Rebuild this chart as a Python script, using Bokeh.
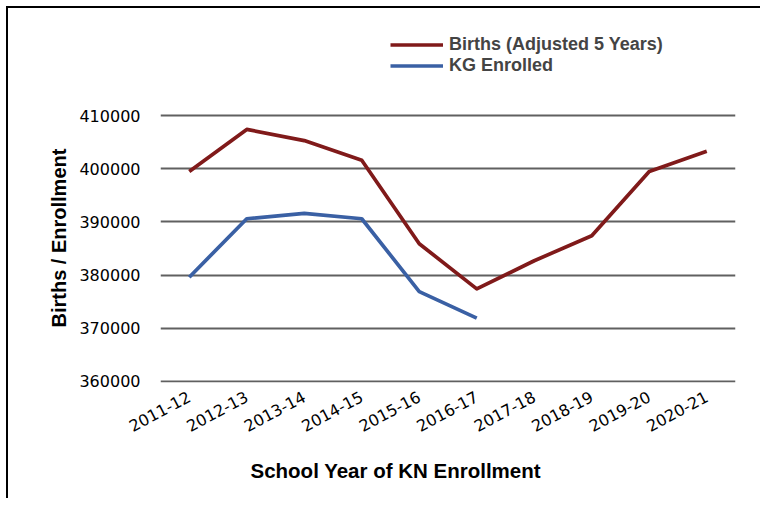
import math
from bokeh.plotting import figure
from bokeh.models import ColumnDataSource, Legend, LegendItem, Title, FactorRange, FixedTicker
from bokeh.embed import file_html
from bokeh.resources import INLINE

# School years (kindergarten enrollment year)
years = ["2011-12", "2012-13", "2013-14", "2014-15", "2015-16",
         "2016-17", "2017-18", "2018-19", "2019-20", "2020-21"]
# Births shifted forward five years
births = [399500, 407400, 405300, 401600, 385900,
          377400, 382700, 387400, 399500, 403300]
# Kindergarten enrollment (reported years only)
kg_years = years[:6]
kg_enrolled = [379600, 390600, 391600, 390600, 376900, 371900]
# Value axis ticks
y_ticks = [360000, 370000, 380000, 390000, 400000, 410000]

BIRTHS_COLOR = "#801a1a"
KG_COLOR = "#3a60a4"

# The top of the frame leaves headroom for the legend above the 410000 line
p = figure(
    width=754, height=492,
    x_range=FactorRange(*years, range_padding=0),
    y_range=(359800, 426000),
    output_backend="svg", toolbar_location=None,
    min_border_left=152, min_border_right=27,
    min_border_top=22, min_border_bottom=118,
)
p.margin = (6, 0, 0, 6)
p.styles = {"border-top": "2px solid black", "border-left": "2px solid black"}
p.outline_line_color = None
p.background_fill_color = "white"
p.border_fill_color = "white"

src_b = ColumnDataSource(dict(x=years, y=births))
src_k = ColumnDataSource(dict(x=kg_years, y=kg_enrolled))
r_b = p.line("x", "y", source=src_b, line_color=BIRTHS_COLOR, line_width=3.7, line_join="round")
r_k = p.line("x", "y", source=src_k, line_color=KG_COLOR, line_width=3.7, line_join="round")

# Grid
p.xgrid.grid_line_color = None
p.ygrid.grid_line_color = "#606060"
p.ygrid.grid_line_width = 2
p.yaxis.ticker = FixedTicker(ticks=y_ticks)

# Axes
for ax in (p.xaxis, p.yaxis):
    ax.axis_line_color = None
    ax.major_tick_line_color = None
    ax.minor_tick_line_color = None
    ax.major_tick_out = 0
    ax.major_tick_in = 0
    ax.major_label_text_font = "DejaVu Sans"
    ax.major_label_text_font_size = "16px"
    ax.major_label_text_color = "black"

p.yaxis.major_label_standoff = 20
p.yaxis.formatter.use_scientific = False
p.xaxis.major_label_orientation = math.radians(28)
p.xaxis.major_label_standoff = 13

# Axis titles
p.add_layout(Title(text="Births / Enrollment", align="left", offset=55,
                   text_font="Liberation Sans", text_font_style="bold",
                   text_font_size="20px", text_color="black", standoff=14), "left")
p.add_layout(Title(text="School Year of KN Enrollment", align="left", offset=90,
                   text_font="Liberation Sans", text_font_style="bold",
                   text_font_size="20.5px", text_color="black", standoff=33), "below")

# Legend in the headroom above the grid
legend = Legend(
    items=[LegendItem(label="Births (Adjusted 5 Years)", renderers=[r_b]),
           LegendItem(label="KG Enrolled", renderers=[r_k])],
    location=(230, 306),
    orientation="vertical",
    border_line_color=None, background_fill_alpha=0,
    padding=0, margin=0, spacing=0,
    glyph_width=53, glyph_height=17, label_standoff=6,
    label_text_font="Liberation Sans", label_text_font_style="bold",
    label_text_font_size="18px",
)
p.add_layout(legend, "center")

open("out.html", "w").write(file_html(p, INLINE))
